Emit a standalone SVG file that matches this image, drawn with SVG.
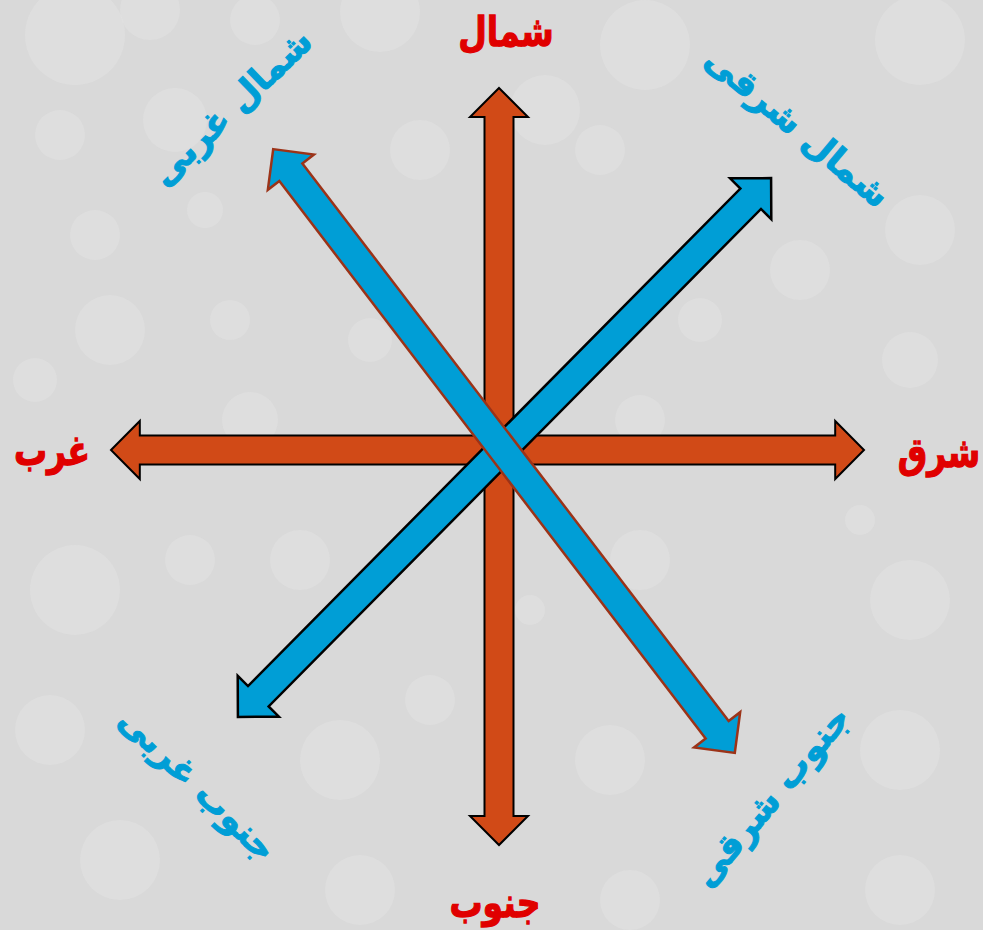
<svg xmlns="http://www.w3.org/2000/svg" width="983" height="930" viewBox="0 0 983 930">
<style>
.bg{fill:#d9d9d9}
.bk circle{fill:#e4e4e4;opacity:0.45}
.or{fill:#d14a17;stroke:#000;stroke-width:2;stroke-linejoin:miter}
.bl1{fill:#009ed6;stroke:#000;stroke-width:2.5}
.bl2{fill:#009ed6;stroke:#9c3318;stroke-width:2.5}
.rt{font-family:"DejaVu Sans",sans-serif;font-weight:bold;font-size:33px;fill:#e00000;text-anchor:middle;stroke:#e00000;stroke-width:1}
.btx{font-family:"DejaVu Sans",sans-serif;font-weight:bold;font-size:35px;fill:#009ed6;text-anchor:middle;stroke:#009ed6;stroke-width:1}
</style>
<defs>
<path id="ar" d="M -379 0 L -350 -29 L -350 -14.5 L 350 -14.5 L 350 -29 L 379 0 L 350 29 L 350 14.5 L -350 14.5 L -350 29 Z"/>
</defs>
<rect class="bg" width="983" height="930"/>
<g class="bk">
<circle cx="75" cy="35" r="50"/><circle cx="150" cy="10" r="30"/><circle cx="255" cy="20" r="25"/>
<circle cx="380" cy="12" r="40"/><circle cx="645" cy="45" r="45"/><circle cx="920" cy="40" r="45"/>
<circle cx="175" cy="120" r="32"/><circle cx="60" cy="135" r="25"/><circle cx="205" cy="210" r="18"/>
<circle cx="95" cy="235" r="25"/><circle cx="545" cy="110" r="35"/><circle cx="420" cy="150" r="30"/>
<circle cx="600" cy="150" r="25"/><circle cx="920" cy="230" r="35"/><circle cx="800" cy="270" r="30"/>
<circle cx="110" cy="330" r="35"/><circle cx="230" cy="320" r="20"/><circle cx="370" cy="340" r="22"/>
<circle cx="700" cy="320" r="22"/><circle cx="910" cy="360" r="28"/><circle cx="35" cy="380" r="22"/>
<circle cx="250" cy="420" r="28"/><circle cx="640" cy="420" r="25"/><circle cx="860" cy="520" r="15"/>
<circle cx="75" cy="590" r="45"/><circle cx="190" cy="560" r="25"/><circle cx="300" cy="560" r="30"/>
<circle cx="530" cy="610" r="15"/><circle cx="640" cy="560" r="30"/><circle cx="910" cy="600" r="40"/>
<circle cx="50" cy="730" r="35"/><circle cx="340" cy="760" r="40"/><circle cx="430" cy="700" r="25"/>
<circle cx="610" cy="760" r="35"/><circle cx="900" cy="750" r="40"/><circle cx="120" cy="860" r="40"/>
<circle cx="360" cy="890" r="35"/><circle cx="630" cy="900" r="30"/><circle cx="900" cy="890" r="35"/>
</g>
<g id="connectors">
<use id="arrow-ns" href="#ar" class="or" transform="translate(499 466.5) rotate(90) scale(0.9987 1)"/>
<use id="arrow-ew" href="#ar" class="or" transform="translate(487.5 450) scale(0.9934 1)"/>
<use id="arrow-ne-sw" href="#ar" class="bl1" transform="translate(504.5 447.5) rotate(-45.3)"/>
<use id="arrow-nw-se" href="#ar" class="bl2" transform="translate(504 451) rotate(52.6) scale(1.0026 1)"/>
</g>
<g id="n-north"><text class="rt" transform="translate(506 46) scale(1 1.25)">شمال</text></g>
<g id="n-south"><text class="rt" transform="translate(495 917) scale(1 1.25)">جنوب</text></g>
<g id="n-east"><text class="rt" transform="translate(939 467) scale(1 1.25)">شرق</text></g>
<g id="n-west"><text class="rt" transform="translate(52 465) scale(1 1.25)">غرب</text></g>
<g id="n-northeast"><text class="btx" transform="translate(797 128) rotate(40)" y="11">شمال شرقی</text></g>
<g id="n-northwest"><text class="btx" transform="translate(232 108) rotate(-44)" y="11">شمال غربی</text></g>
<g id="n-southwest"><text class="btx" transform="translate(197 785) rotate(44)" y="11">جنوب غربی</text></g>
<g id="n-southeast"><text class="btx" transform="translate(772 797) rotate(-50)" y="11">جنوب شرقی</text></g>
</svg>
